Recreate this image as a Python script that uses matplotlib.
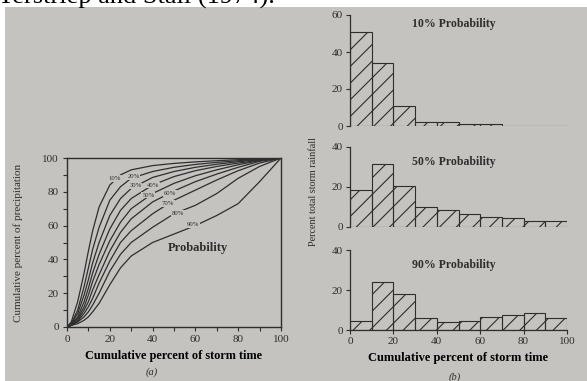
import numpy as np
import matplotlib
matplotlib.use("Agg")
import matplotlib.pyplot as plt
from matplotlib.patches import Rectangle

# --- data ---
# (a) cumulative curves, one per probability level
time_pct = [0, 2, 5, 8, 10, 12, 15, 20, 25, 30, 40, 50, 60, 70, 80, 90, 100]
curve_10 = [0, 3, 15, 32, 45, 57, 71, 84, 90, 93, 95.5, 96.8, 97.7, 98.4, 99, 99.5, 100]
curve_20 = [0, 2, 10, 24, 35, 46, 59, 75, 83, 88, 92, 94.5, 96.2, 97.4, 98.4, 99.2, 100]
curve_30 = [0, 2, 8, 19, 28, 38, 50, 66, 76, 82, 88.5, 92, 94.5, 96.3, 97.8, 99, 100]
curve_40 = [0, 1.5, 6, 15, 23, 32, 43, 58, 69, 76, 84, 89, 92.5, 95, 97, 98.7, 100]
curve_50 = [0, 1.5, 5, 12, 19, 27, 37, 51, 62, 70, 79, 85, 89.5, 93, 96, 98.5, 100]
curve_60 = [0, 1, 4, 10, 15, 22, 31, 45, 56, 64, 74, 80.5, 86, 90.5, 94.5, 98, 100]
curve_70 = [0, 1, 3.5, 8, 12, 17, 26, 39, 50, 57, 67, 75, 81, 87, 92.5, 97, 100]
curve_80 = [0, 1, 3, 6, 9, 13, 20, 33, 43, 50, 59, 67, 72, 79, 88, 95, 100]
curve_90 = [0, 1, 2, 4, 6, 9, 14, 25, 35, 42, 50, 55, 60, 66, 73, 86, 100]
curves = [curve_10, curve_20, curve_30, curve_40, curve_50,
          curve_60, curve_70, curve_80, curve_90]
curve_names = ["10%", "20%", "30%", "40%", "50%", "60%", "70%", "80%", "90%"]
# where each label sits on its curve (x, y in data units)
label_x = [22, 31, 32, 40, 38, 48, 47, 52, 59]
label_y = [88, 89, 83.5, 84, 78, 79, 73, 67, 60.5]

# (b) histograms, 10% bins of storm time
bin_left = [0, 10, 20, 30, 40, 50, 60, 70, 80, 90]
hist_10 = [51, 34, 11, 2.2, 2, 1.2, 1.2, 0, 0, 0]
hist_50 = [18.5, 31.5, 20.7, 10, 8.3, 6.6, 5, 4.5, 3, 3]
hist_90 = [4.5, 23.8, 17.8, 5.8, 4, 4.6, 6.5, 7.3, 8.3, 6.2]

bg = "#c4c3bf"
ink = "#2e2e2e"
plt.rcParams['font.family'] = ['Liberation Serif', 'DejaVu Serif']
plt.rcParams['text.color'] = ink
plt.rcParams['axes.edgecolor'] = ink
plt.rcParams['xtick.color'] = ink
plt.rcParams['ytick.color'] = ink
plt.rcParams['hatch.color'] = ink
plt.rcParams['hatch.linewidth'] = 0.8

W, H = 587, 381
fig = plt.figure(figsize=(W / 100, H / 100), dpi=100, facecolor="white")

# photo background
fig.patches.append(Rectangle((5 / W, 0), 1 - 5 / W, 1 - 7 / H,
                             transform=fig.transFigure, facecolor=bg,
                             edgecolor="none", zorder=-10))
# cut-off line of page text above the photo (only its lower edge shows)
fig.text(-0.004, 1 - 3.5 / H, "Terstriep and Stall (1974).", fontsize=19,
         color="black", va="baseline", ha="left")


def px_axes(x0, x1, y_top, y_bot):
    return fig.add_axes([x0 / W, (H - y_bot) / H, (x1 - x0) / W, (y_bot - y_top) / H])


# ---- (a) ----
ax = px_axes(67, 281, 158, 327)
ax.set_facecolor("none")
for c in curves:
    ax.plot(time_pct, c, color=ink, lw=0.9)
for name, lx, ly in zip(curve_names, label_x, label_y):
    ax.text(lx, ly, name, fontsize=4.8, ha="center", va="center",
            bbox=dict(facecolor=bg, edgecolor="none", pad=0.6))
ax.text(61, 47, "Probability", fontsize=9, fontweight="bold", ha="center", va="center")
ax.set_xlim(0, 100)
ax.set_ylim(0, 100)
ax.set_xticks(range(0, 101, 20))
ax.set_yticks(range(0, 101, 20))
ax.set_xticks(range(10, 100, 20), minor=True)
ax.set_yticks(range(10, 100, 20), minor=True)
ax.tick_params(labelsize=8, length=3, width=0.8, pad=3)
ax.tick_params(which="minor", length=3, width=0.8)
for s in ax.spines.values():
    s.set_linewidth(1.0)
ax.set_xlabel("Cumulative percent of storm time", fontsize=8.8, fontweight="bold", labelpad=4)
fig.text(18 / W, 1 - 243 / H, "Cumulative percent of precipitation", fontsize=8,
         rotation=90, ha="center", va="center")
fig.text(152 / W, 1 - 372 / H, "(a)", fontsize=7.5, ha="center", va="center", style="italic")

# ---- (b) ----
panels = [
    (hist_10, "10% Probability", 15, 126, 60, [0, 20, 40, 60], 24),
    (hist_50, "50% Probability", 147, 227, 40, [0, 20, 40], 162),
    (hist_90, "90% Probability", 250, 330, 40, [0, 20, 40], 265),
]
for i, (vals, title, yt, yb, ymax, yticks, ty) in enumerate(panels):
    bx = px_axes(350, 567, yt, yb)
    bx.set_facecolor("none")
    bx.bar(bin_left, vals, width=10, align="edge", facecolor="none",
           edgecolor=ink, hatch="//", linewidth=0.8)
    bx.set_xlim(0, 100)
    bx.set_ylim(0, ymax)
    bx.set_yticks(yticks)
    bx.spines["top"].set_visible(False)
    bx.spines["right"].set_visible(False)
    bx.spines["left"].set_linewidth(0.9)
    bx.tick_params(labelsize=8, length=3, width=0.8, pad=2)
    bx.text(0.48, 1 - (ty - yt) / (yb - yt), title, transform=bx.transAxes,
            fontsize=8.5, fontweight="bold", ha="center", va="center")
    if i < 2:
        bx.spines["bottom"].set_visible(False)
        bx.set_xticks([])
    else:
        bx.spines["bottom"].set_linewidth(0.9)
        bx.set_xticks(range(0, 101, 20))
        bx.set_xlabel("Cumulative percent of storm time", fontsize=9,
                      fontweight="bold", labelpad=4)

fig.text(314 / W, 1 - 192 / H, "Percent total storm rainfall", fontsize=7.3,
         rotation=90, ha="center", va="center")
fig.text(455 / W, 1 - 377 / H, "(b)", fontsize=7.5, ha="center", va="center", style="italic")

fig.savefig("out.png", dpi=100, facecolor="white")
